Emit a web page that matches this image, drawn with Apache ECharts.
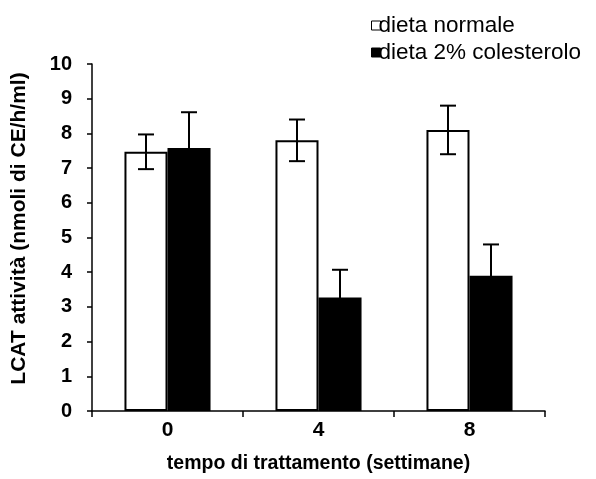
<!DOCTYPE html>
<html>
<head>
<meta charset="utf-8">
<script src="https://cdn.jsdelivr.net/npm/echarts@6/dist/echarts.min.js"></script>
<style>
  html, body { margin: 0; padding: 0; background: #fff; }
  #chart { width: 596px; height: 479px; }
</style>
</head>
<body>
<div id="chart"></div>
<script>
// Weeks of treatment
const categories = ['0', '4', '8'];
// LCAT activity means and errors (nmol CE/h/ml)
const normalMean = [7.47, 7.80, 8.10];
const normalErr = [0.50, 0.60, 0.70];
const cholMean = [7.58, 3.27, 3.90];
const cholErr = [1.03, 0.80, 0.90];
const seriesNames = ['dieta normale', 'dieta 2% colesterolo'];

const FONT = '"Liberation Sans", Arial, sans-serif';
const BAR_FRAC = 0.285;

function errorSeries(name, means, errs, side) {
  const data = means.map((m, i) => [i, m - errs[i], m + errs[i]]);
  return {
    type: 'custom',
    name: name + ' err',
    z: 10,
    silent: true,
    data: data,
    renderItem: function (params, api) {
      const idx = api.value(0);
      const band = api.size([1, 0])[0];
      const shift = side * band * BAR_FRAC / 2;
      const lo = api.coord([idx, api.value(1)]);
      const hi = api.coord([idx, api.value(2)]);
      const x = lo[0] + shift;
      const cap = 8;
      const style = { stroke: '#000', lineWidth: 2 };
      return {
        type: 'group',
        children: [
          { type: 'line', shape: { x1: x, y1: lo[1], x2: x, y2: hi[1] }, style: style },
          { type: 'line', shape: { x1: x - cap, y1: hi[1], x2: x + cap, y2: hi[1] }, style: style },
          { type: 'line', shape: { x1: x - cap, y1: lo[1], x2: x + cap, y2: lo[1] }, style: style }
        ]
      };
    }
  };
}

const chart = echarts.init(document.getElementById('chart'), null, { renderer: 'canvas' });
chart.setOption({
  animation: false,
  textStyle: { fontFamily: FONT },
  grid: { left: 92, right: 51, top: 64, bottom: 68, containLabel: false },
  legend: {
    data: seriesNames,
    orient: 'vertical',
    left: 366,
    top: 9,
    itemWidth: 9,
    itemHeight: 9,
    itemGap: 4,
    icon: 'rect',
    itemStyle: { borderColor: '#000', borderWidth: 1 },
    textStyle: { fontFamily: FONT, fontSize: 22.5, color: '#000', padding: [0, 0, 0, -7] }
  },
  xAxis: {
    type: 'category',
    data: categories,
    name: 'tempo di trattamento (settimane)',
    nameLocation: 'middle',
    nameGap: 43,
    nameTextStyle: { fontFamily: FONT, fontSize: 19.5, fontWeight: 'bold', color: '#000' },
    axisLine: { lineStyle: { color: '#000', width: 1.5 } },
    axisTick: { show: true, length: 6, lineStyle: { color: '#000', width: 1.5 } },
    axisLabel: { fontFamily: FONT, fontSize: 21, fontWeight: 'bold', color: '#000', margin: 9 }
  },
  yAxis: {
    type: 'value',
    min: 0,
    max: 10,
    interval: 1,
    name: 'LCAT attività (nmoli di CE/h/ml)',
    nameLocation: 'middle',
    nameRotate: 90,
    nameGap: 62,
    nameTextStyle: { fontFamily: FONT, fontSize: 21, fontWeight: 'bold', color: '#000', padding: [0, 0, 0, 18] },
    splitLine: { show: false },
    axisLine: { show: true, lineStyle: { color: '#000', width: 1.5 } },
    axisTick: { show: true, length: 5, lineStyle: { color: '#000', width: 1.5 } },
    axisLabel: { fontFamily: FONT, fontSize: 20, fontWeight: 'bold', color: '#000', margin: 20 }
  },
  series: [
    {
      type: 'bar',
      name: seriesNames[0],
      data: normalMean,
      barWidth: (BAR_FRAC * 100) + '%',
      barGap: '0%',
      itemStyle: { color: '#fff', borderColor: '#000', borderWidth: 2 }
    },
    {
      type: 'bar',
      name: seriesNames[1],
      data: cholMean,
      barWidth: (BAR_FRAC * 100) + '%',
      barGap: '0%',
      itemStyle: { color: '#000', borderColor: '#000', borderWidth: 2 }
    },
    errorSeries(seriesNames[0], normalMean, normalErr, -1),
    errorSeries(seriesNames[1], cholMean, cholErr, 1)
  ]
});
</script>
</body>
</html>
